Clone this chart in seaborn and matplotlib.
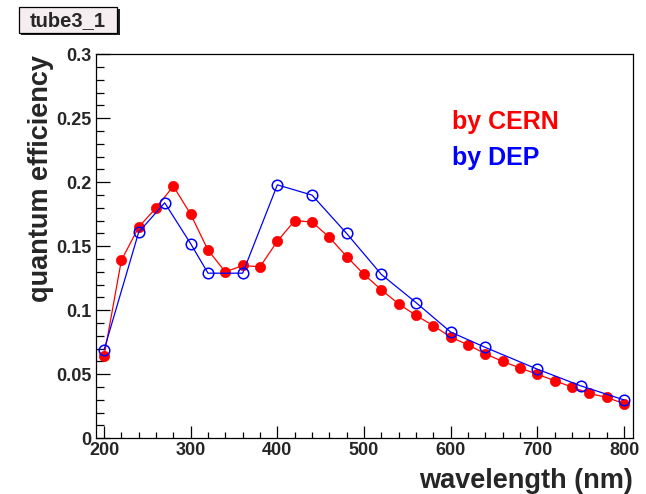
import matplotlib
matplotlib.use("Agg")
import matplotlib.pyplot as plt
import matplotlib.patches as mpatches
from matplotlib.ticker import MultipleLocator
import seaborn as sns
import pandas as pd

# ---- data ----
cern_wl = [200, 220, 240, 260, 280, 300, 320, 340, 360, 380, 400, 420, 440, 460,
           480, 500, 520, 540, 560, 580, 600, 620, 640, 660, 680, 700, 720, 740,
           760, 780, 800]
cern_qe = [0.064, 0.139, 0.165, 0.180, 0.197, 0.175, 0.147, 0.130, 0.135, 0.134,
           0.154, 0.170, 0.169, 0.157, 0.142, 0.128, 0.116, 0.105, 0.096, 0.088,
           0.079, 0.073, 0.066, 0.060, 0.055, 0.050, 0.045, 0.040, 0.035, 0.032,
           0.027]
dep_wl = [200, 240, 270, 300, 320, 360, 400, 440, 480, 520, 560, 600, 640, 700,
          750, 800]
dep_qe = [0.069, 0.161, 0.184, 0.152, 0.129, 0.129, 0.198, 0.190, 0.160, 0.128,
          0.106, 0.083, 0.071, 0.054, 0.041, 0.030]

title_text = "tube3_1"
x_label = "wavelength (nm)"
y_label = "quantum efficiency"
legend_cern = "by CERN"
legend_dep = "by DEP"

sns.set_style("white")
plt.rcParams['font.family'] = ['Liberation Sans', 'DejaVu Sans']

df_cern = pd.DataFrame({"wl": cern_wl, "qe": cern_qe})
df_dep = pd.DataFrame({"wl": dep_wl, "qe": dep_qe})

W, H = 646, 494
fig = plt.figure(figsize=(W / 100, H / 100), dpi=100)
fig.patch.set_facecolor("white")
ax = fig.add_axes([95.7 / W, 1 - 438.3 / H, (633.3 - 95.7) / W, (438.3 - 54.3) / H])

sns.lineplot(data=df_cern, x="wl", y="qe", ax=ax, color="#ff0000", linewidth=0.9,
             marker="o", markersize=7.4, markerfacecolor="#ff0000",
             markeredgecolor="#ff0000", markeredgewidth=0.5, sort=False,
             estimator=None, zorder=3)
sns.lineplot(data=df_dep, x="wl", y="qe", ax=ax, color="#0000ff", linewidth=0.9,
             marker="o", markersize=7.6, markerfacecolor="none",
             markeredgecolor="#0000ff", markeredgewidth=1.1, sort=False,
             estimator=None, zorder=4)

ax.set_xlim(190.4, 810.7)
ax.set_ylim(0, 0.3)
ax.xaxis.set_major_locator(MultipleLocator(100))
ax.xaxis.set_minor_locator(MultipleLocator(20))
ax.yaxis.set_major_locator(MultipleLocator(0.05))
ax.yaxis.set_minor_locator(MultipleLocator(0.01))
ax.set_yticks([0, 0.05, 0.1, 0.15, 0.2, 0.25, 0.3])
ax.set_yticklabels(["0", "0.05", "0.1", "0.15", "0.2", "0.25", "0.3"])

ax.tick_params(axis="both", which="both", direction="in", top=False, right=False,
               left=True, bottom=True, color="black", width=0.9)
ax.tick_params(axis="x", which="major", length=9, pad=3)
ax.tick_params(axis="x", which="minor", length=4.5)
ax.tick_params(axis="y", which="major", length=10, pad=3)
ax.tick_params(axis="y", which="minor", length=5.5)
for lab in ax.get_xticklabels() + ax.get_yticklabels():
    lab.set_fontweight("bold")
    lab.set_fontsize(13)
for sp in ax.spines.values():
    sp.set_visible(True)
    sp.set_color("black")
    sp.set_linewidth(0.9)

ax.set_xlabel("")
ax.set_ylabel("")
fig.text(633 / W, 1 - 481 / H, x_label, ha="right", va="center",
         fontsize=19.5, fontweight="bold")
fig.text(41 / W, 1 - 55 / H, y_label, ha="center", va="top", rotation=90,
         fontsize=19.5, fontweight="bold")

ax.text(452 / W, 1 - 122 / H, legend_cern, transform=fig.transFigure,
        color="#ff0000", fontsize=18, fontweight="bold", ha="left", va="center")
ax.text(452 / W, 1 - 158 / H, legend_dep, transform=fig.transFigure,
        color="#0000ff", fontsize=18, fontweight="bold", ha="left", va="center")

# title box with shadow
fig.patches.append(mpatches.Rectangle((21 / W, 1 - 35 / H), 99 / W, 26 / H,
                                      transform=fig.transFigure, facecolor="#222222",
                                      edgecolor="none", zorder=1))
fig.patches.append(mpatches.Rectangle((19 / W, 1 - 33 / H), 98 / W, 26 / H,
                                      transform=fig.transFigure, facecolor="#f5eef0",
                                      edgecolor="black", linewidth=0.9, zorder=2))
fig.text(68 / W, 1 - 20.5 / H, title_text, ha="center", va="center",
         fontsize=14.5, fontweight="bold", zorder=3)

fig.savefig("out.png", dpi=100)
